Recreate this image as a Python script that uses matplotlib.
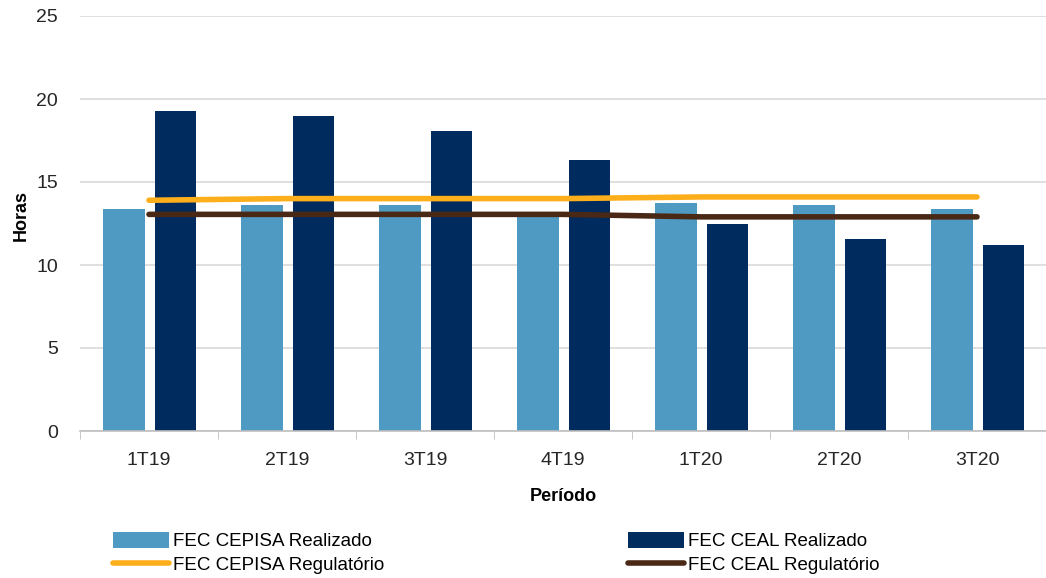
import numpy as np
import matplotlib
matplotlib.use("Agg")
import matplotlib.pyplot as plt

periodos = ["1T19", "2T19", "3T19", "4T19", "1T20", "2T20", "3T20"]
cepisa_realizado = [13.35, 13.6, 13.6, 13.0, 13.75, 13.6, 13.35]
ceal_realizado = [19.3, 19.0, 18.1, 16.3, 12.45, 11.55, 11.2]
cepisa_regulatorio = [13.9, 14.0, 14.0, 14.0, 14.1, 14.1, 14.1]
ceal_regulatorio = [13.05, 13.05, 13.05, 13.05, 12.9, 12.9, 12.9]

cor_cepisa = "#4F9AC2"
cor_ceal = "#002B5E"
cor_laranja = "#FDAF1B"
cor_marrom = "#4A2816"

plt.rcParams["font.family"] = ["Liberation Sans", "DejaVu Sans"]

fig = plt.figure(figsize=(10.46, 5.78), dpi=100)
ax = fig.add_axes([80 / 1046, 1 - 431 / 578, 1 - 80 / 1046, 415 / 578])

x = np.arange(len(periodos))
largura = 0.30
b1 = ax.bar(x - 0.18, cepisa_realizado, largura, color=cor_cepisa, zorder=2)
b2 = ax.bar(x + 0.19, ceal_realizado, largura, color=cor_ceal, zorder=2)
l1, = ax.plot(x, cepisa_regulatorio, color=cor_laranja, lw=4, solid_capstyle="round", zorder=3)
l2, = ax.plot(x, ceal_regulatorio, color=cor_marrom, lw=4, solid_capstyle="round", zorder=3)

ax.set_xlim(-0.5, len(periodos) - 0.5)
ax.set_ylim(0, 25)
ax.set_yticks(range(0, 26, 5))
ax.set_xticks(x)
ax.set_xticklabels(periodos)
ax.set_xticks(np.arange(-0.5, len(periodos), 1), minor=True)
ax.tick_params(axis="x", which="major", length=0, pad=15, labelsize=14, labelcolor="#262626")
ax.tick_params(axis="x", which="minor", length=6, color="#bfbfbf")
ax.tick_params(axis="y", length=0, pad=16, labelsize=14, labelcolor="#262626")
ax.grid(axis="y", color="#d9d9d9", lw=1.2, zorder=0)
for lado in ["top", "right", "left"]:
    ax.spines[lado].set_visible(False)
ax.spines["bottom"].set_color("#bfbfbf")
ax.spines["bottom"].set_linewidth(1.2)

ax.set_xlabel("Período", fontsize=13, fontweight="bold", labelpad=14)
ax.set_ylabel("Horas", fontsize=13, fontweight="bold")
ax.yaxis.set_label_coords(-0.052, 0.52)

# ncol=2 preenche por coluna
fig.legend([b1, l1, b2, l2],
           ["FEC CEPISA Realizado", "FEC CEPISA Regulatório", "FEC CEAL Realizado", "FEC CEAL Regulatório"],
           ncol=2, loc="center left", bbox_to_anchor=(96 / 1046, 1 - 553 / 578),
           frameon=False, fontsize=13.5, handlelength=3.0, handleheight=0.9, handletextpad=0.2,
           columnspacing=13.0, labelspacing=0.3)

fig.savefig("out.png", dpi=100)
